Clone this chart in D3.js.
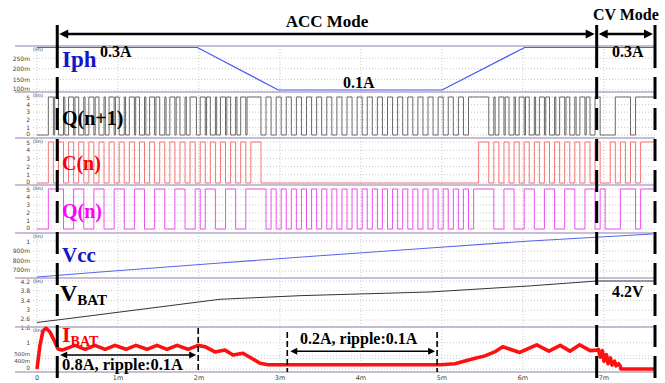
<!DOCTYPE html>
<html>
<head>
<meta charset="utf-8">
<script src="https://cdn.jsdelivr.net/npm/d3@7"></script>
<style>
	body { margin: 0; background: #fff; }
</style>
</head>
<body>
<div id="chart"></div>
<script>
// ---------------- DATA (times in ms) ----------------

// x axis
var timeTicks = [0, 1, 2, 3, 4, 5, 6, 7];
var timeTickLabels = ['0', '1m', '2m', '3m', '4m', '5m', '6m', '7m'];

// mode boundaries: ACC from first to second, CV from second to third
var modeBounds = [0.25, 6.91, 7.63];

// Iph (A)
var iphTime = [0, 1.98, 2.98, 5.0, 6.02, 7.63];
var iphValue = [0.3, 0.3, 0.1, 0.1, 0.3, 0.3];
var iphTicks = [0.1, 0.15, 0.2, 0.25];
var iphTickLabels = ['100m', '150m', '200m', '250m'];

// digital traces, one character per clock period
var bitStart = 0.14;
var bitPeriod = 0.0625;
var qn1Bits = '110011001100110011001100110010' + '110011001111' + '010101010101010101010101010101010101010101' + '111001' + '100110011001100110' + '100011101111';
var cnBits = '101010101010101010101010101010101010101' + '011' + '0000000000000000000000000000000000000000000' + '110' + '1010101010101010101' + '0100101010111';
var qnBits = '111001100110011001100110011001' + '011001100111' + '101010101010101010101010101010101010101010' + '111100' + '110011001100110011' + '010001110111';
// short spikes on Q(n+1) where C(n) falls
var qn1Glitches = [0.20, 0.33, 0.45, 0.58, 0.70, 0.83, 0.95, 1.08, 1.20, 1.33, 1.45, 1.58, 1.70, 1.83, 1.95,
	2.08, 2.20, 2.33, 2.45, 2.58,
	5.64, 5.765, 5.89, 6.015, 6.14, 6.265, 6.39, 6.515, 6.64, 6.765];
var digitalTicks = [0, 1, 2, 3, 4, 5];
var digitalTickLabels = ['0', '1', '2', '3', '4', '5'];

// Vcc (V)
var vccTime = [0, 0.78, 2.26, 3.62, 4.85, 6.09, 7.6];
var vccValue = [0.64, 0.69, 0.78, 0.86, 0.93, 1.0, 1.07];
var vccTicks = [0.7, 0.8, 0.9, 1.0];
var vccTickLabels = ['700m', '800m', '900m', '1'];

// VBAT (V)
var vbatTime = [0, 0.37, 2.26, 3.26, 4.85, 6.09, 6.91, 7.63];
var vbatValue = [2.5, 2.65, 3.45, 3.6, 3.75, 4.0, 4.2, 4.2];
var vbatTicks = [2.6, 3, 3.4, 3.8, 4.2];
var vbatTickLabels = ['2.6', '3', '3.4', '3.8', '4.2'];

// IBAT (A)
var ibatTime = [0, 0.037, 0.074, 0.111, 0.16, 0.21, 0.26, 0.31,
	0.469, 0.593, 0.716, 0.84, 0.963, 1.099, 1.222, 1.358, 1.481, 1.605, 1.728, 1.864, 1.988,
	2.074, 2.198, 2.321, 2.42, 2.543, 2.654, 2.753, 2.852, 4.975,
	5.16, 5.35, 5.53, 5.65, 5.75, 5.96, 6.17, 6.32, 6.46, 6.58, 6.70, 6.83, 6.91,
	6.93, 6.955, 6.98, 7.0, 7.03, 7.05, 7.08, 7.1, 7.13, 7.15, 7.18, 7.2, 7.21, 7.63];
var ibatValue = [0, 0.91, 1.45, 1.56, 1.41, 1.1, 0.76, 0.72,
	0.9, 0.75, 0.9, 0.75, 0.9, 0.75, 0.9, 0.75, 0.9, 0.75, 0.9, 0.75, 0.9,
	0.85, 0.65, 0.72, 0.53, 0.6, 0.4, 0.22, 0.16, 0.16,
	0.2, 0.36, 0.5, 0.65, 0.85, 0.63, 0.92, 0.68, 0.9, 0.68, 0.92, 0.7, 0.72,
	0.75, 0.45, 0.7, 0.3, 0.55, 0.2, 0.42, 0.15, 0.3, 0.12, 0.2, 0.12, 0, 0];
var ibatTicks = [0, 0.4, 0.5, 1, 1.6];
var ibatTickLabels = ['0', '400m', '500m', '1', '1.6'];

// annotation spans on the IBAT panel
var span08 = [0.25, 1.99];
var span02 = [3.09, 4.94];

// ---------------- CHART ----------------
function Chart() {
	var attrs = {
		svgWidth: 665,
		svgHeight: 383,
		container: '#chart',
		plotLeft: 37,
		plotRight: 655,
		frameLeft: 15,
		frameColor: '#b5a9c6',
		gridColor: '#bdbdbd',
		tickColor: '#444',
		glitchWidth: 0.016,
		tickFont: 'DejaVu Sans, sans-serif',
		labelFont: 'Liberation Serif, Times New Roman, serif'
	};

	var main = function () {
		var svg = d3.select(attrs.container).append('svg')
			.attr('width', attrs.svgWidth)
			.attr('height', attrs.svgHeight);

		var x = d3.scaleLinear()
			.domain([0, modeBounds[2]])
			.range([attrs.plotLeft, attrs.plotRight]);

		// panel layout (pixels) with the data scale of each one
		var panels = [
			{ key: 'iph', top: 46, bottom: 92, domain: [0.1, 0.3], range: [90, 47.5], ticks: iphTicks, labels: iphTickLabels },
			{ key: 'qn1', top: 92, bottom: 138, domain: [0, 5], range: [135, 97], ticks: digitalTicks, labels: digitalTickLabels },
			{ key: 'cn', top: 138, bottom: 185, domain: [0, 5], range: [183, 142], ticks: digitalTicks, labels: digitalTickLabels },
			{ key: 'qn', top: 185, bottom: 233, domain: [0, 5], range: [229, 189], ticks: digitalTicks, labels: digitalTickLabels },
			{ key: 'vcc', top: 233, bottom: 278, domain: [0.7, 1.0], range: [271, 241], ticks: vccTicks, labels: vccTickLabels },
			{ key: 'vbat', top: 278, bottom: 327, domain: [2.6, 4.2], range: [320, 281], ticks: vbatTicks, labels: vbatTickLabels },
			{ key: 'ibat', top: 327, bottom: 372, domain: [0, 1.6], range: [369, 327], ticks: ibatTicks, labels: ibatTickLabels }
		];
		panels.forEach(function (p) {
			p.y = d3.scaleLinear().domain(p.domain).range(p.range);
		});
		var byKey = {};
		panels.forEach(function (p) { byKey[p.key] = p; });

		// Grid and frames
		panels.forEach(function (p) {
			var g = svg.append('g');

			g.selectAll('line.vgrid').data(timeTicks).enter().append('line')
				.attr('x1', d => x(d)).attr('x2', d => x(d))
				.attr('y1', p.top).attr('y2', p.bottom)
				.attr('stroke', attrs.gridColor)
				.attr('stroke-width', 0.8)
				.attr('stroke-dasharray', '1,2');

			g.selectAll('line.hgrid').data(p.ticks).enter().append('line')
				.attr('x1', attrs.plotLeft - 4).attr('x2', attrs.plotRight)
				.attr('y1', d => p.y(d)).attr('y2', d => p.y(d))
				.attr('stroke', attrs.gridColor)
				.attr('stroke-width', 0.8)
				.attr('stroke-dasharray', '1,2');

			// labels at the panel edges and the 400m / 500m pair are nudged apart
			var lo = d3.min(p.ticks), hi = d3.max(p.ticks);
			g.selectAll('text.tick').data(p.ticks).enter().append('text')
				.attr('x', attrs.plotLeft - 7)
				.attr('y', function (d, i) {
					var lab = p.labels[i];
					var nudge = 0;
					if (p.key === 'ibat' && lab === '500m') nudge = -1.8;
					else if (p.key === 'ibat' && lab === '400m') nudge = 2.2;
					else if (d === lo) nudge = -1;
					else if (d === hi) nudge = 1;
					return p.y(d) + 2.2 + nudge;
				})
				.attr('text-anchor', 'end')
				.attr('font-family', attrs.tickFont)
				.attr('font-size', (d, i) => p.key === 'ibat' && (p.labels[i] === '500m' || p.labels[i] === '400m') ? 5.5 : 6)
				.attr('fill', attrs.tickColor)
				.text((d, i) => p.labels[i]);

			g.append('text')
				.attr('x', attrs.plotLeft - 4)
				.attr('y', p.top + 5)
				.attr('font-family', attrs.tickFont)
				.attr('font-size', 5)
				.attr('fill', attrs.tickColor)
				.text('(lin)');
		});

		var borders = [46].concat(panels.map(p => p.bottom));
		svg.selectAll('line.frame').data(borders).enter().append('line')
			.attr('x1', attrs.frameLeft).attr('x2', attrs.plotRight)
			.attr('y1', d => d).attr('y2', d => d)
			.attr('stroke', attrs.frameColor)
			.attr('stroke-width', 1.5);

		// x axis labels
		svg.selectAll('text.xtick').data(timeTicks).enter().append('text')
			.attr('x', d => x(d))
			.attr('y', 380)
			.attr('text-anchor', 'middle')
			.attr('font-family', attrs.tickFont)
			.attr('font-size', 6.5)
			.attr('fill', attrs.tickColor)
			.text((d, i) => timeTickLabels[i]);

		// Analog traces
		drawTrace(byKey.iph, iphTime, iphValue, '#4a5cf2', 1.2);
		drawTrace(byKey.vcc, vccTime, vccValue, '#5566ee', 1.1);
		drawTrace(byKey.vbat, vbatTime, vbatValue, '#333', 1);
		drawTrace(byKey.ibat, ibatTime, ibatValue, '#ff1010', 3.6);

		// Digital traces
		drawBits(byKey.qn1, qn1Bits, '#6a6a6a', qn1Glitches);
		drawBits(byKey.cn, cnBits, '#f47474', []);
		drawBits(byKey.qn, qnBits, '#ee50ee', []);

		// Mode markers
		drawModes();

		// IBAT annotations
		drawSpan(span08, 0.53, [1.99], 328);
		drawSpan(span02, 0.68, span02, 332);

		// Labels
		var labels = [
			{ text: 'Iph', x: 62, y: 67, size: 23, color: '#1414c8' },
			{ text: '0.3A', x: 100, y: 57, size: 16, color: '#000' },
			{ text: '0.1A', x: 343, y: 88, size: 16, color: '#000' },
			{ text: '0.3A', x: 612, y: 57, size: 16, color: '#000' },
			{ text: 'Q(n+1)', x: 62, y: 125, size: 20, color: '#000' },
			{ text: 'C(n)', x: 62, y: 170, size: 20, color: '#ff0000' },
			{ text: 'Q(n)', x: 62, y: 218, size: 20, color: '#ff00ff' },
			{ text: 'Vcc', x: 62, y: 262, size: 21, color: '#1414c8' },
			{ text: '4.2V', x: 612, y: 297, size: 16, color: '#000' },
			{ text: '0.8A, ripple:0.1A', x: 62, y: 370, size: 16.5, color: '#000' },
			{ text: '0.2A, ripple:0.1A', x: 300, y: 344, size: 16, color: '#000' }
		];
		svg.selectAll('text.label').data(labels).enter().append('text')
			.attr('x', d => d.x).attr('y', d => d.y)
			.attr('font-family', attrs.labelFont)
			.attr('font-weight', 'bold')
			.attr('font-size', d => d.size)
			.attr('fill', d => d.color)
			.text(d => d.text);

		subLabel('V', 'BAT', 60, 301, 24, 15, '#000');
		subLabel('I', 'BAT', 62, 342, 22, 14, '#ff0000');

		// FUNCTIONS

		function drawTrace(p, times, values, color, width) {
			var line = d3.line()
				.x(d => x(d[0]))
				.y(d => p.y(d[1]));
			svg.append('path')
				.datum(times.map((t, i) => [t, values[i]]))
				.attr('d', line)
				.attr('fill', 'none')
				.attr('stroke', color)
				.attr('stroke-width', width)
				.attr('stroke-linejoin', 'round');
		}

		function drawBits(p, bits, color, glitches) {
			var glitchAt = {};
			glitches.forEach(function (g) {
				glitchAt[Math.round((g - bitStart) / bitPeriod)] = g;
			});
			var pts = [[0, 0]];
			bits.split('').forEach(function (b, i) {
				var t = bitStart + i * bitPeriod, v = +b;
				if (glitchAt[i] !== undefined) {
					pts.push([t, 1 - v]);
					pts.push([t + attrs.glitchWidth, v]);
				} else {
					pts.push([t, v]);
				}
			});
			pts.push([modeBounds[2], +bits[bits.length - 1]]);
			var line = d3.line()
				.x(d => x(d[0]))
				.y(d => p.y(d[1] * 5))
				.curve(d3.curveStepAfter);
			svg.append('path')
				.datum(pts)
				.attr('d', line)
				.attr('fill', 'none')
				.attr('stroke', color)
				.attr('stroke-width', 1);
		}

		function arrowHead(xTip, y, dir) {
			svg.append('path')
				.attr('d', 'M' + xTip + ',' + y + 'l' + (-dir * 9) + ',-4.5l0,9z')
				.attr('fill', '#000');
		}

		function drawModes() {
			var arrowY = 34;
			modeBounds.forEach(function (t) {
				svg.append('line')
					.attr('x1', x(t)).attr('x2', x(t))
					.attr('y1', 25).attr('y2', 46)
					.attr('stroke', '#000').attr('stroke-width', 3);
				svg.append('line')
					.attr('x1', x(t)).attr('x2', x(t))
					.attr('y1', 46).attr('y2', attrs.svgHeight)
					.attr('stroke', '#000').attr('stroke-width', 3)
					.attr('stroke-dasharray', '22,9');
			});
			for (var i = 0; i < 2; i++) {
				var a = x(modeBounds[i]) + 2, b = x(modeBounds[i + 1]) - 2;
				svg.append('line')
					.attr('x1', a + 4).attr('x2', b - 4)
					.attr('y1', arrowY).attr('y2', arrowY)
					.attr('stroke', '#000').attr('stroke-width', 2.5);
				arrowHead(a, arrowY, -1);
				arrowHead(b, arrowY, 1);
			}
			svg.append('text')
				.attr('x', (x(modeBounds[0]) + x(modeBounds[1])) / 2)
				.attr('y', 27)
				.attr('text-anchor', 'middle')
				.attr('font-family', attrs.labelFont)
				.attr('font-weight', 'bold')
				.attr('font-size', 17)
				.text('ACC Mode');
			svg.append('text')
				.attr('x', (x(modeBounds[1]) + x(modeBounds[2])) / 2)
				.attr('y', 20)
				.attr('text-anchor', 'middle')
				.attr('font-family', attrs.labelFont)
				.attr('font-weight', 'bold')
				.attr('font-size', 16)
				.text('CV Mode');
		}

		function drawSpan(span, level, dashed, yTop) {
			var p = byKey.ibat;
			dashed.forEach(function (t) {
				svg.append('line')
					.attr('x1', x(t)).attr('x2', x(t))
					.attr('y1', yTop).attr('y2', p.bottom)
					.attr('stroke', '#000').attr('stroke-width', 1.6)
					.attr('stroke-dasharray', '6,3');
			});
			var a = x(span[0]) + 3, b = x(span[1]) - 2, yy = p.y(level);
			svg.append('line')
				.attr('x1', a + 5).attr('x2', b - 5)
				.attr('y1', yy).attr('y2', yy)
				.attr('stroke', '#000').attr('stroke-width', 1.5);
			svg.append('path').attr('d', 'M' + a + ',' + yy + 'l7,-3.5l0,7z').attr('fill', '#000');
			svg.append('path').attr('d', 'M' + b + ',' + yy + 'l-7,-3.5l0,7z').attr('fill', '#000');
		}

		function subLabel(main, sub, px, py, size, subSize, color) {
			var t = svg.append('text')
				.attr('x', px).attr('y', py)
				.attr('font-family', attrs.labelFont)
				.attr('font-weight', 'bold')
				.attr('fill', color);
			t.append('tspan').attr('font-size', size).text(main);
			t.append('tspan').attr('font-size', subSize).attr('dy', 4).text(sub);
		}
	};

	main.render = function () {
		main();
		return main;
	};

	return main;
}

Chart().render();
</script>
</body>
</html>
